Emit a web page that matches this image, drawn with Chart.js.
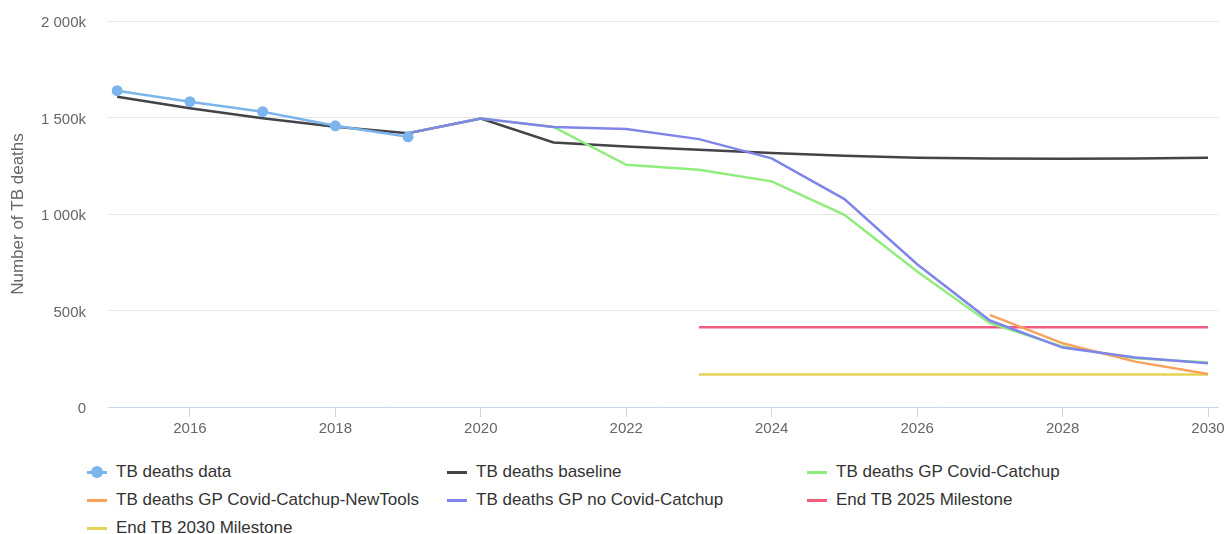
<!DOCTYPE html>
<html>
<head>
<meta charset="utf-8">
<script src="https://cdn.jsdelivr.net/npm/chart.js@4"></script>
<style>
  body { margin: 0; background: #fff; font-family: "Liberation Sans", Arial, sans-serif; }
  #wrap { position: relative; width: 1224px; height: 534px; }
  #box { position: absolute; left: 0; top: 0; width: 1224px; height: 445px; }
  #legenda { position: absolute; left: 87px; top: 460px; display: grid;
    grid-template-columns: 360px 360px 360px; row-gap: 4px; }
  .item { display: flex; align-items: center; height: 24px; font-size: 17px; color: #333; }
  .sim { position: relative; width: 20px; height: 3px; margin-right: 9px; }
  .sim .pt { position: absolute; left: 4px; top: -4.5px; width: 12px; height: 12px; border-radius: 50%; }
</style>
</head>
<body>
<div id="wrap">
  <div id="box"><canvas id="graficoMuertes"></canvas></div>
  <div id="legenda"></div>
</div>
<script>

const anosDatos = [2015, 2016, 2017, 2018, 2019];
const muertesDatos = [1639000, 1582000, 1530000, 1457000, 1400000];

const anosBase = [2015, 2016, 2017, 2018, 2019, 2020, 2021, 2022, 2023, 2024, 2025, 2026, 2027, 2028, 2029, 2030];
const muertesBase = [1608000, 1548000, 1496000, 1452000, 1419000, 1495000, 1371000, 1350000, 1333000, 1316000, 1302000, 1291000, 1288000, 1286000, 1288000, 1291000];

const anosGP = [2019, 2020, 2021, 2022, 2023, 2024, 2025, 2026, 2027, 2028, 2029, 2030];
const muertesCatchup = [1419000, 1495000, 1451000, 1255000, 1229000, 1169000, 996000, 702000, 434000, 313000, 252000, 230000];
const muertesSinCatchup = [1419000, 1495000, 1451000, 1440000, 1388000, 1288000, 1077000, 740000, 448000, 308000, 256000, 227000];

const anosNewTools = [2027, 2028, 2029, 2030];
const muertesNewTools = [477000, 330000, 235000, 171000];

const anosHito = [2023, 2030];
const hito2025 = [413000, 413000];
const hito2030 = [168000, 168000];

const ticksX = [2016, 2018, 2020, 2022, 2024, 2026, 2028, 2030];
const ticksY = [0, 500000, 1000000, 1500000, 2000000];

function puntos(anos, valores) {
    return anos.map((a, i) => ({ x: a, y: valores[i] }));
}

function formatoK(v) {
    if (v === 0) return "0";
    const k = String(Math.round(v / 1000));
    return k.replace(/\B(?=(\d{3})+(?!\d))/g, " ") + "k";
}

// orden de la leyenda (como en el original)
const series = [
    { label: "TB deaths data", color: "#7cb5ec", data: puntos(anosDatos, muertesDatos), marker: true },
    { label: "TB deaths baseline", color: "#434348", data: puntos(anosBase, muertesBase) },
    { label: "TB deaths GP Covid-Catchup", color: "#90ed7d", data: puntos(anosGP, muertesCatchup) },
    { label: "TB deaths GP Covid-Catchup-NewTools", color: "#f7a35c", data: puntos(anosNewTools, muertesNewTools) },
    { label: "TB deaths GP no Covid-Catchup", color: "#8085e9", data: puntos(anosGP, muertesSinCatchup) },
    { label: "End TB 2025 Milestone", color: "#f15c80", data: puntos(anosHito, hito2025) },
    { label: "End TB 2030 Milestone", color: "#e4d354", data: puntos(anosHito, hito2030) }
];

// dibujo: el primero queda arriba
const ordenDibujo = [0, 4, 3, 2, 1, 5, 6];

const datasets = ordenDibujo.map(i => {
    const s = series[i];
    return {
        label: s.label,
        data: s.data,
        borderColor: s.color,
        backgroundColor: s.color,
        borderWidth: 2.5,
        pointRadius: s.marker ? 5.5 : 0,
        pointHoverRadius: s.marker ? 5.5 : 0,
        pointBorderWidth: 0,
        tension: 0,
        fill: false
    };
});

new Chart(
    document.getElementById("graficoMuertes"),
    {
        type: "line",
        data: { datasets: datasets },
        options: {
            responsive: true,
            maintainAspectRatio: false,
            animation: false,
            layout: { padding: { top: 21, right: 5, left: 0, bottom: 0 } },
            plugins: {
                legend: { display: false },
                tooltip: { enabled: false }
            },
            scales: {
                x: {
                    type: "linear",
                    min: 2014.874,
                    max: 2030.144,
                    afterBuildTicks: scale => {
                        scale.ticks = ticksX.map(v => ({ value: v }));
                    },
                    afterFit: scale => {
                        scale.height = 38;
                        scale.paddingLeft = 0;
                        scale.paddingRight = 0;
                    },
                    grid: {
                        drawOnChartArea: false,
                        drawTicks: true,
                        tickLength: 10,
                        color: "#ccd6eb"
                    },
                    border: { color: "#ccd6eb", width: 1 },
                    ticks: {
                        color: "#666666",
                        font: { family: "Liberation Sans", size: 15 },
                        padding: 3,
                        maxRotation: 0,
                        callback: v => String(v)
                    }
                },
                y: {
                    min: 0,
                    max: 2000000,
                    afterBuildTicks: scale => {
                        scale.ticks = ticksY.map(v => ({ value: v }));
                    },
                    afterFit: scale => {
                        scale.width = 108;
                        scale.paddingTop = 0;
                        scale.paddingBottom = 0;
                    },
                    grid: { color: "#e6e6e6", drawTicks: false },
                    border: { display: false },
                    ticks: {
                        color: "#666666",
                        font: { family: "Liberation Sans", size: 15 },
                        padding: 22,
                        labelOffset: 2,
                        callback: v => formatoK(v)
                    },
                    title: {
                        display: true,
                        text: "Number of TB deaths",
                        color: "#666666",
                        font: { family: "Liberation Sans", size: 17 },
                        padding: { top: 8, bottom: 0 }
                    }
                }
            }
        }
    }
);

const legenda = document.getElementById("legenda");

series.forEach(s => {
    const item = document.createElement("div");
    item.className = "item";
    const sim = document.createElement("span");
    sim.className = "sim";
    sim.style.background = s.color;
    if (s.marker) {
        const pt = document.createElement("span");
        pt.className = "pt";
        pt.style.background = s.color;
        sim.appendChild(pt);
    }
    const txt = document.createElement("span");
    txt.textContent = s.label;
    item.appendChild(sim);
    item.appendChild(txt);
    legenda.appendChild(item);
});
</script>
</body>
</html>
